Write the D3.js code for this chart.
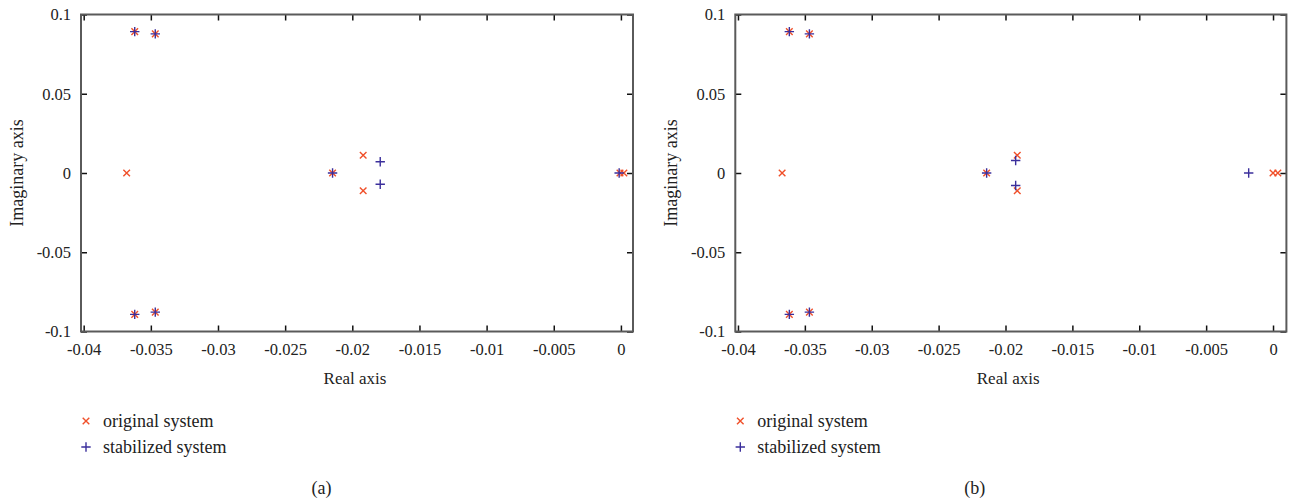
<!DOCTYPE html>
<html>
<head>
<meta charset="utf-8">
<script src="https://cdn.jsdelivr.net/npm/d3@7"></script>
<style>
body { margin: 0; background: #fff; }
svg { font-family: "Liberation Serif", "DejaVu Serif", serif; }
</style>
</head>
<body>
<svg width="1293" height="502"></svg>
<script>
var xTicks = [-0.04, -0.035, -0.03, -0.025, -0.02, -0.015, -0.01, -0.005, 0];
var yTicks = [-0.1, -0.05, 0, 0.05, 0.1];
var seriesNames = ["original system", "stabilized system"];
var captions = ["(a)", "(b)"];

// panel (a)
var origA = [[-0.0362, 0.0892], [-0.03467, 0.0878], [-0.0362, -0.0892], [-0.03467, -0.0878],
	[-0.0368, 0], [-0.02147, 0], [-0.01919, 0.0112], [-0.01919, -0.0112], [-0.00007, 0], [0.00022, 0]];
var stabA = [[-0.0362, 0.0892], [-0.03467, 0.0878], [-0.0362, -0.0892], [-0.03467, -0.0878],
	[-0.02147, 0], [-0.01792, 0.0071], [-0.01792, -0.0071], [-0.00013, 0]];
// panel (b)
var origB = [[-0.03616, 0.0892], [-0.03466, 0.0878], [-0.03616, -0.0892], [-0.03466, -0.0878],
	[-0.0367, 0], [-0.02141, 0], [-0.01912, 0.0112], [-0.01912, -0.0112], [0, 0], [0.00036, 0]];
var stabB = [[-0.03616, 0.0892], [-0.03466, 0.0878], [-0.03616, -0.0892], [-0.03466, -0.0878],
	[-0.02141, 0], [-0.01924, 0.0079], [-0.01924, -0.0079], [-0.00182, 0]];

var red = "#f0502a", blue = "#3b2f9c";
var svg = d3.select("svg");

var panels = [
	{ xDom: [-0.0402, 0.0009], left: 81, right: 633, orig: origA, stab: stabA, cap: captions[0] },
	{ xDom: [-0.0402, 0.001], left: 735.3, right: 1286.4, orig: origB, stab: stabB, cap: captions[1] }
];
var yTop = 14.5, yBottom = 331.5;

function crossPath(x, y, s) {
	return "M" + (x - s) + "," + (y - s) + "L" + (x + s) + "," + (y + s) +
		"M" + (x - s) + "," + (y + s) + "L" + (x + s) + "," + (y - s);
}
function plusPath(x, y, s) {
	return "M" + (x - s) + "," + y + "L" + (x + s) + "," + y +
		"M" + x + "," + (y - s) + "L" + x + "," + (y + s);
}
var fmt = function(d) { return String(+d.toFixed(3)); };

panels.forEach(function(p) {
	var x = d3.scaleLinear().domain(p.xDom).range([p.left, p.right]);
	var y = d3.scaleLinear().domain([-0.1, 0.1]).range([yBottom, yTop]);
	var g = svg.append("g");

	var bx = g.append("g").attr("transform", "translate(0," + yBottom + ")")
		.call(d3.axisBottom(x).tickValues(xTicks).tickSize(-6).tickPadding(12).tickFormat(fmt));
	var tx = g.append("g").attr("transform", "translate(0," + yTop + ")")
		.call(d3.axisTop(x).tickValues(xTicks).tickSize(-6).tickFormat(""));
	var ly = g.append("g").attr("transform", "translate(" + p.left + ",0)")
		.call(d3.axisLeft(y).tickValues(yTicks).tickSize(-6).tickPadding(10).tickFormat(fmt));
	var ry = g.append("g").attr("transform", "translate(" + p.right + ",0)")
		.call(d3.axisRight(y).tickValues(yTicks).tickSize(-6).tickFormat(""));
	[bx, tx, ly, ry].forEach(function(a) {
		a.select(".domain").remove();
		a.selectAll(".tick line").attr("stroke", "#111").attr("stroke-width", 1.5);
		a.selectAll(".tick text").attr("font-family", "Liberation Serif")
			.attr("font-size", 16.5).attr("fill", "#222");
	});

	g.append("rect").attr("x", p.left).attr("y", yTop)
		.attr("width", p.right - p.left).attr("height", yBottom - yTop)
		.attr("fill", "none").attr("stroke", "#5a5a5a").attr("stroke-width", 2);

	g.append("g").selectAll("path").data(p.orig).enter().append("path")
		.attr("d", function(d) { return crossPath(x(d[0]), y(d[1]), 3.3); })
		.attr("stroke", red).attr("stroke-width", 1.4).attr("fill", "none");
	g.append("g").selectAll("path").data(p.stab).enter().append("path")
		.attr("d", function(d) { return plusPath(x(d[0]), y(d[1]), 4.7); })
		.attr("stroke", blue).attr("stroke-width", 1.4).attr("fill", "none");

	g.append("text").attr("x", x(-0.0198)).attr("y", 384).attr("text-anchor", "middle")
		.attr("font-size", 17).attr("fill", "#222").text("Real axis");
	g.append("text").attr("transform", "translate(" + (p.left - 58) + "," + y(0) + ") rotate(-90)")
		.attr("text-anchor", "middle").attr("font-size", 18).attr("fill", "#222").text("Imaginary axis");

	var leg = g.append("g").attr("transform", "translate(" + (p.left + 5) + ",0)");
	leg.append("path").attr("d", crossPath(0, 421, 3.3)).attr("stroke", red).attr("stroke-width", 1.4);
	leg.append("path").attr("d", plusPath(0, 447, 4.7)).attr("stroke", blue).attr("stroke-width", 1.4);
	leg.selectAll("text").data(seriesNames).enter().append("text")
		.attr("x", 17).attr("y", function(d, i) { return 421 + i * 26; }).attr("dy", "0.33em")
		.attr("font-size", 18).attr("fill", "#222").text(function(d) { return d; });

	g.append("text").attr("x", x(-0.0223)).attr("y", 494).attr("text-anchor", "middle")
		.attr("font-size", 18).attr("fill", "#222").text(p.cap);
});
</script>
</body>
</html>
